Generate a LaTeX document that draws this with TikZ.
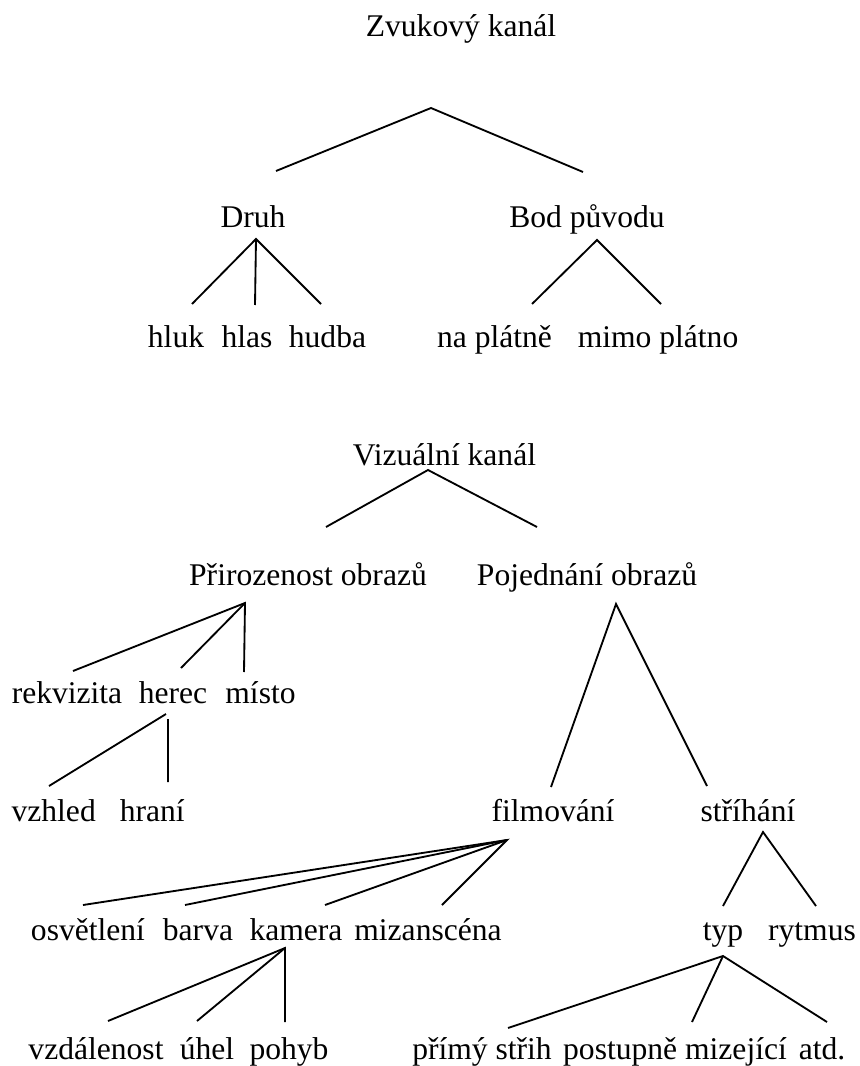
\documentclass[tikz,border=0pt]{standalone}
\usepackage{fontspec}
\setmainfont{Liberation Serif}
\tikzset{tree word/.style={inner sep=0pt, anchor=base, font=\fontsize{12}{14}\selectfont},
    tree edge/.style={line width=0.7pt},
    }

\begin{document}
\begin{tikzpicture}[x=0.38pt,y=-0.38pt]
	\useasboundingbox (0,0) rectangle (860,1066);
	%Zvukovy kanal
	\node[tree word] (zvuk) at (461,37) {Zvukový kanál};
	\node[tree word] (druh) at (253,228) {Druh};
	\node[tree word] (bod) at (587,228) {Bod původu};
	\node[tree word] (hluk) at (176,347) {hluk};
	\node[tree word] (hlas) at (247,347) {hlas};
	\node[tree word] (hudba) at (327.5,347) {hudba};
	\node[tree word] (naplatne) at (494.5,347) {na plátně};
	\node[tree word] (mimo) at (658,347) {mimo plátno};
	%Vizualni kanal
	\node[tree word] (vizual) at (444.5,465) {Vizuální kanál};
	\node[tree word] (priroz) at (308,585) {Přirozenost obrazů};
	\node[tree word] (pojed) at (587,585) {Pojednání obrazů};
	\node[tree word] (rekviz) at (67,703) {rekvizita};
	\node[tree word] (herec) at (173,703) {herec};
	\node[tree word] (misto) at (260.5,703) {místo};
	\node[tree word] (vzhled) at (53.7,821) {vzhled};
	\node[tree word] (hrani) at (152.3,821) {hraní};
	\node[tree word] (film) at (553,821) {filmování};
	\node[tree word] (strih) at (748,821) {stříhání};
	\node[tree word] (osvetl) at (88,940) {osvětlení};
	\node[tree word] (barva) at (198,940) {barva};
	\node[tree word] (kamera) at (296,940) {kamera};
	\node[tree word] (mizan) at (428,940) {mizanscéna};
	\node[tree word] (typ) at (723,940) {typ};
	\node[tree word] (rytmus) at (812,940) {rytmus};
	\node[tree word] (vzdal) at (96,1059) {vzdálenost};
	\node[tree word] (uhel) at (207,1059) {úhel};
	\node[tree word] (pohyb) at (289,1059) {pohyb};
	\node[tree word] (primy) at (482,1059) {přímý střih};
	\node[tree word] (postup) at (675,1059) {postupně mizející};
	\node[tree word] (atd) at (822,1059) {atd.};

	\draw[tree edge] ([shift={(23,-57)}]druh.base) -- ([shift={(-30,71)}]zvuk.base) -- ([shift={(-4,-56)}]bod.base);
	\draw[tree edge] ([shift={(16,-43)}]hluk.base) -- ([shift={(3,11)}]druh.base) -- ([shift={(-6.5,-43)}]hudba.base);
	\draw[tree edge] ([shift={(3,11)}]druh.base) -- ([shift={(8,-42)}]hlas.base);
	\draw[tree edge] ([shift={(37.5,-43)}]naplatne.base) -- ([shift={(10,12)}]bod.base) -- ([shift={(3,-43)}]mimo.base);

	\draw[tree edge] ([shift={(18,-58)}]priroz.base) -- ([shift={(-16.5,5)}]vizual.base) -- ([shift={(-50,-58)}]pojed.base);
	\draw[tree edge] ([shift={(6,-32)}]rekviz.base) -- ([shift={(-63,18)}]priroz.base) -- ([shift={(-16.5,-31)}]misto.base);
	\draw[tree edge] ([shift={(-63,18)}]priroz.base) -- ([shift={(8,-35)}]herec.base);
	\draw[tree edge] ([shift={(-7,11)}]herec.base) -- ([shift={(-4.7,-35)}]vzhled.base);
	\draw[tree edge] ([shift={(-5,16)}]herec.base) -- ([shift={(15.7,-39)}]hrani.base);
	\draw[tree edge] ([shift={(-2,-34)}]film.base) -- ([shift={(29,19)}]pojed.base) -- ([shift={(-41,-35)}]strih.base);
	\draw[tree edge] ([shift={(-5,-35)}]osvetl.base) -- ([shift={(-46,19)}]film.base) -- ([shift={(14,-35)}]mizan.base);
	\draw[tree edge] ([shift={(-46,19)}]film.base) -- ([shift={(-13,-35)}]barva.base);
	\draw[tree edge] ([shift={(-46,19)}]film.base) -- ([shift={(29,-35)}]kamera.base);
	\draw[tree edge] ([shift={(0,-34)}]typ.base) -- ([shift={(15,11)}]strih.base) -- ([shift={(4,-34)}]rytmus.base);
	\draw[tree edge] ([shift={(12,-38)}]vzdal.base) -- ([shift={(-11,8)}]kamera.base) -- ([shift={(-4,-37)}]pohyb.base);
	\draw[tree edge] ([shift={(-11,8)}]kamera.base) -- ([shift={(-10,-38)}]uhel.base);
	\draw[tree edge] ([shift={(26,-31)}]primy.base) -- ([shift={(0,16)}]typ.base) -- ([shift={(5,-37)}]atd.base);
	\draw[tree edge] ([shift={(0,16)}]typ.base) -- ([shift={(17,-37)}]postup.base);
\end{tikzpicture}
\end{document}
